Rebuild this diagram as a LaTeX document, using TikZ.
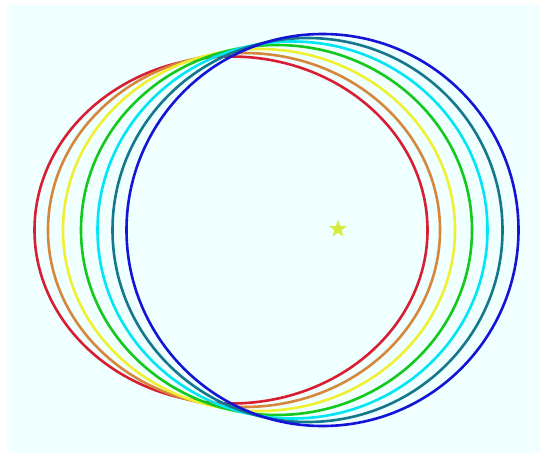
\documentclass[tikz,border=0pt]{standalone}
\usetikzlibrary{shapes.geometric}
\definecolor{bgc}{RGB}{240,255,255}
\definecolor{cR}{RGB}{215,30,50}
\definecolor{cO}{RGB}{215,135,60}
\definecolor{cY}{RGB}{240,240,50}
\definecolor{cG}{RGB}{20,200,30}
\definecolor{cC}{RGB}{0,230,245}
\definecolor{cT}{RGB}{20,120,140}
\definecolor{cB}{RGB}{20,20,215}
\definecolor{cS}{RGB}{215,235,60}
\begin{document}
\begin{tikzpicture}[x=1pt,y=-1pt,ring/.style={line width=2.6pt}]
\useasboundingbox (0,0) rectangle (540,453);
\fill[white] (0,0) rectangle (540,453);
\fill[bgc] (7,5) rectangle (540,453);
\draw[ring,cR] (231,230) ellipse [x radius=196.5, y radius=173.5];
\draw[ring,cO] (244,230) ellipse [x radius=196, y radius=177];
\draw[ring,cY] (259,230) ellipse [x radius=196, y radius=181];
\draw[ring,cG] (276.5,230) ellipse [x radius=195.5, y radius=185];
\draw[ring,cC] (292.5,230) ellipse [x radius=195, y radius=188.5];
\draw[ring,cT] (307.5,230) ellipse [x radius=195, y radius=192];
\draw[ring,cB] (322.5,230) ellipse [x radius=196, y radius=196];
\node[star,star points=5,star point ratio=2.4,fill=cS,draw=none,inner sep=0pt,minimum size=18pt] (star) at (338,229) {};
\end{tikzpicture}
\end{document}
